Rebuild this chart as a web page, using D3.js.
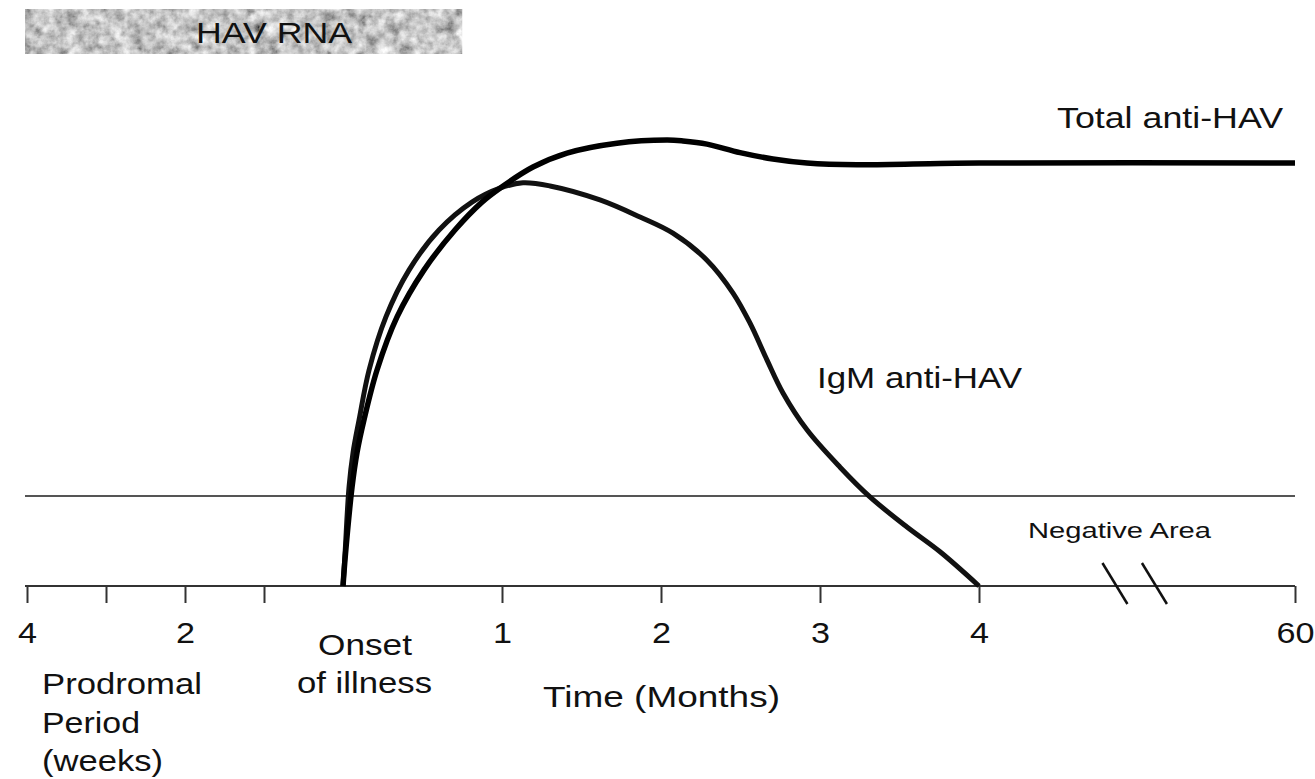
<!DOCTYPE html>
<html>
<head>
<meta charset="utf-8">
<script src="https://cdn.jsdelivr.net/npm/d3@7"></script>
<style>
  html, body { margin: 0; padding: 0; background: #fff; }
  svg { display: block; font-family: "Liberation Sans", Arial, sans-serif; }
</style>
</head>
<body>
<script>
// ---- data ----
// prodromal axis (weeks before onset) and time axis (months after onset)
const weekTicks = [4, 3, 2, 1];
const weekLabels = ["4", "", "2", ""];
const monthTicks = [1, 2, 3, 4, 60];

// HAV RNA detection window: from 4 weeks before onset to ~0.75 months after
const havRnaWeeks = 4;
const havRnaMonths = 0.75;

// Total anti-HAV (months after onset, relative level 0-100)
const totalMonths = [0, 0.016, 0.057, 0.088, 0.132, 0.214, 0.340, 0.509, 0.704, 0.874, 0.987, 1.195, 1.409,
  1.723, 2.038, 2.138, 2.289, 2.497, 2.704, 2.918, 3.233, 3.755, 4, 60];
const totalLevel = [0, 7.3, 22.0, 29.6, 36.9, 48.0, 59.8, 70.2, 79.1, 85.3, 88.4, 93.1, 96.2,
  98.4, 99.1, 98.9, 98.2, 96.3, 94.9, 94.0, 93.6, 93.9, 94.0, 94.0];

// IgM anti-HAV
const igmMonths = [0, 0.013, 0.038, 0.063, 0.101, 0.164, 0.270, 0.415, 0.604, 0.811, 0.987, 1.132, 1.302,
  1.616, 1.868, 2.075, 2.289, 2.453, 2.560, 2.667, 2.767, 2.918, 3.126, 3.314, 3.547, 3.755, 4.0];
const igmLevel = [0, 7.3, 22.0, 29.6, 36.9, 48.0, 59.8, 70.2, 79.1, 85.3, 88.4, 89.6, 88.9,
  85.8, 82.0, 78.4, 72.4, 65.1, 58.4, 50.2, 42.9, 34.7, 26.4, 19.8, 13.1, 7.6, 0];

// positivity cut-off, and where the axis break sits (months)
const cutoffLevel = 20;
const breakMonths = [28, 35];

// ---- layout ----
const W = 1315, H = 779;
const axisY = 586;

const svg = d3.select("body").append("svg")
  .attr("width", W)
  .attr("height", H);

svg.append("rect").attr("width", W).attr("height", H).attr("fill", "#fff");

// scales: weeks before onset to the left, months after onset to the right (broken after 4)
const xWeeks = d3.scaleLinear().domain([4, 0]).range([27, 343]);
const xMonths = d3.scaleLinear().domain([0, 4, 60]).range([343, 979, 1295]);
const y = d3.scaleLinear().domain([0, 100]).range([axisY, 136]);

// grainy texture for the HAV RNA bar
const defs = svg.append("defs");
const grain = defs.append("filter").attr("id", "grain")
  .attr("x", 0).attr("y", 0).attr("width", 1).attr("height", 1);
grain.append("feTurbulence")
  .attr("type", "fractalNoise")
  .attr("baseFrequency", 0.09)
  .attr("numOctaves", 4)
  .attr("seed", 11)
  .attr("result", "noise");
grain.append("feColorMatrix")
  .attr("in", "noise")
  .attr("type", "matrix")
  .attr("values", "0.8 0.8 0 0 -0.24  0.8 0.8 0 0 -0.24  0.8 0.8 0 0 -0.24  0 0 0 0 1")
  .attr("result", "gray");
grain.append("feComposite")
  .attr("in", "gray").attr("in2", "SourceGraphic").attr("operator", "in");

svg.append("rect")
  .attr("x", xWeeks(havRnaWeeks) - 2)
  .attr("y", 9)
  .attr("width", xMonths(havRnaMonths) - xWeeks(havRnaWeeks) + 2)
  .attr("height", 45)
  .attr("fill", "#999")
  .attr("filter", "url(#grain)");

// label helper, text in the picture is a little wider than Arial
function label(txt, x, yy, size, width) {
  return svg.append("text")
    .attr("x", x).attr("y", yy)
    .attr("font-size", size)
    .attr("fill", "#111")
    .attr("textLength", width)
    .attr("lengthAdjust", "spacingAndGlyphs")
    .text(txt);
}

label("HAV RNA", 196, 43, 30, 156);

// cut-off line
svg.append("line")
  .attr("x1", 25).attr("x2", xMonths(60))
  .attr("y1", y(cutoffLevel)).attr("y2", y(cutoffLevel))
  .attr("stroke", "#555")
  .attr("stroke-width", 2);

// axes
svg.append("line")
  .attr("x1", 25).attr("x2", xMonths(60))
  .attr("y1", axisY).attr("y2", axisY)
  .attr("stroke", "#333")
  .attr("stroke-width", 2);

const weekAxis = d3.axisBottom(xWeeks)
  .tickValues(weekTicks)
  .tickFormat((d, i) => weekLabels[i])
  .tickSize(17)
  .tickSizeOuter(0);

const monthAxis = d3.axisBottom(xMonths)
  .tickValues(monthTicks)
  .tickFormat(d3.format("d"))
  .tickSize(17)
  .tickSizeOuter(0);

[weekAxis, monthAxis].forEach((ax) => {
  const g = svg.append("g")
    .attr("transform", `translate(0,${axisY})`)
    .call(ax);
  g.select(".domain").remove();
  g.selectAll(".tick line").attr("stroke", "#333").attr("stroke-width", 2);
  g.selectAll(".tick text")
    .attr("y", 57)
    .attr("dy", null)
    .attr("fill", "#111")
    .attr("font-size", 30)
    .attr("font-family", "Liberation Sans, Arial, sans-serif")
    .attr("transform", "scale(1.14,1)");
});

// axis break marks
breakMonths.forEach((m) => {
  svg.append("line")
    .attr("x1", xMonths(m) - 12).attr("y1", axisY - 23)
    .attr("x2", xMonths(m) + 13).attr("y2", axisY + 18)
    .attr("stroke", "#111")
    .attr("stroke-width", 2.5);
});

// curves
const line = d3.line()
  .x((d) => xMonths(d[0]))
  .y((d) => y(d[1]))
  .curve(d3.curveCatmullRom.alpha(0.5));

svg.append("path")
  .datum(igmMonths.map((m, i) => [m, igmLevel[i]]))
  .attr("d", line)
  .attr("fill", "none")
  .attr("stroke", "#111")
  .attr("stroke-width", 5)
  .attr("stroke-linejoin", "round");

svg.append("path")
  .datum(totalMonths.map((m, i) => [m, totalLevel[i]]))
  .attr("d", line)
  .attr("fill", "none")
  .attr("stroke", "#000")
  .attr("stroke-width", 5.5)
  .attr("stroke-linejoin", "round");

// annotations
label("Total anti-HAV", 1057, 128, 30, 226);
label("IgM anti-HAV", 817, 388, 30, 205);
label("Negative Area", 1028, 538, 22, 183);

label("Onset", 318, 655, 30, 94);
label("of illness", 297, 693, 30, 135);
label("Time (Months)", 543, 707, 30, 237);
label("Prodromal", 42, 694, 30, 160);
label("Period", 42, 733, 30, 98);
label("(weeks)", 42, 771, 30, 121);
</script>
</body>
</html>
